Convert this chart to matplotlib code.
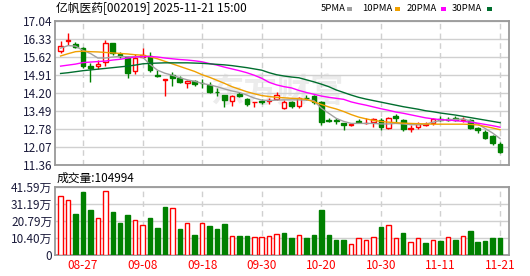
import matplotlib
matplotlib.use("Agg")
import matplotlib.pyplot as plt
from matplotlib.patches import Rectangle
import numpy as np

plt.rcParams['font.family'] = ['Noto Sans CJK SC', 'DejaVu Sans']

dates = ['08-22', '08-25', '08-26', '08-27', '08-28', '08-29', '09-01', '09-02', '09-03', '09-04',
         '09-05', '09-08', '09-09', '09-10', '09-11', '09-12', '09-15', '09-16', '09-17', '09-18',
         '09-19', '09-22', '09-23', '09-24', '09-25', '09-26', '09-29', '09-30', '10-09', '10-10',
         '10-13', '10-14', '10-15', '10-16', '10-17', '10-20', '10-21', '10-22', '10-23', '10-24',
         '10-27', '10-28', '10-29', '10-30', '10-31', '11-03', '11-04', '11-05', '11-06', '11-07',
         '11-10', '11-11', '11-12', '11-13', '11-14', '11-17', '11-18', '11-19', '11-20', '11-21']

opens = [15.86, 16.27, 16.13, 15.97, 15.28, 15.28, 15.41, 16.16, 15.73, 15.63,
         15.07, 15.63, 15.66, 14.91, 14.70, 14.91, 14.80, 14.61, 14.66, 14.60,
         14.52, 14.25, 14.13, 13.90, 14.15, 13.95, 13.83, 13.88, 13.88, 13.98,
         13.62, 13.86, 13.70, 14.02, 14.07, 13.83, 13.14, 13.12, 13.00, 12.95,
         13.10, 13.00, 13.04, 13.13, 12.81, 13.30, 13.13, 12.79, 12.85, 12.94,
         13.00, 13.18, 13.16, 13.20, 13.13, 13.13, 12.83, 12.67, 12.50, 12.18]
closes = [16.05, 16.30, 16.00, 15.25, 15.17, 15.33, 16.16, 15.77, 15.66, 15.00,
          15.57, 15.70, 15.11, 14.89, 14.74, 14.78, 14.63, 14.67, 14.54, 14.58,
          14.23, 14.22, 13.92, 14.09, 14.08, 13.77, 13.85, 13.86, 13.92, 14.12,
          13.83, 13.70, 14.01, 13.99, 13.86, 13.07, 13.11, 13.09, 12.94, 12.97,
          13.07, 13.01, 13.16, 12.87, 13.20, 13.20, 12.77, 12.81, 12.98, 12.97,
          13.16, 13.15, 13.14, 13.13, 13.16, 12.81, 12.73, 12.44, 12.22, 11.86]
highs = [16.25, 16.58, 16.22, 16.00, 15.38, 15.49, 16.29, 16.16, 15.80, 15.67,
         15.74, 15.96, 15.83, 15.11, 14.74, 15.04, 14.87, 14.71, 14.71, 14.74,
         14.65, 14.39, 14.13, 14.13, 14.24, 13.99, 13.85, 13.95, 14.00, 14.25,
         13.92, 13.88, 14.04, 14.12, 14.12, 13.88, 13.20, 13.23, 13.00, 12.97,
         13.16, 13.20, 13.20, 13.20, 13.27, 13.36, 13.16, 12.94, 13.07, 13.07,
         13.20, 13.30, 13.26, 13.28, 13.26, 13.17, 12.87, 12.74, 12.54, 12.28]
lows = [15.78, 16.09, 15.98, 15.20, 14.65, 15.13, 15.28, 15.70, 15.57, 14.80,
        14.94, 15.60, 15.04, 14.82, 14.08, 14.48, 14.58, 14.41, 14.49, 14.39,
        14.19, 14.08, 13.66, 13.70, 14.03, 13.70, 13.66, 13.77, 13.75, 13.92,
        13.56, 13.60, 13.62, 13.94, 13.75, 12.94, 13.04, 12.99, 12.74, 12.90,
        13.00, 12.98, 12.87, 12.74, 12.77, 13.07, 12.71, 12.67, 12.77, 12.91,
        12.95, 13.10, 13.10, 13.10, 13.06, 12.77, 12.61, 12.39, 12.15, 11.82]

# moving averages
ma5 = [15.97, 16.07, 16.05, 15.88, 15.76, 15.58, 15.58, 15.62, 15.64, 15.63,
       15.63, 15.62, 15.33, 15.10, 14.98, 14.90, 14.80, 14.72, 14.66, 14.58,
       14.52, 14.45, 14.36, 14.28, 14.22, 14.12, 14.00, 13.92, 13.90, 13.92,
       13.93, 13.93, 13.93, 13.92, 13.90, 13.60, 13.40, 13.20, 13.08, 13.00,
       13.00, 13.00, 13.00, 12.98, 12.98, 13.00, 12.98, 12.95, 12.95, 12.97,
       13.05, 13.12, 13.15, 13.16, 13.17, 13.10, 12.98, 12.80, 12.62, 12.40]
ma10 = [15.66, 15.75, 15.83, 15.85, 15.83, 15.82, 15.80, 15.78, 15.76, 15.74,
        15.71, 15.69, 15.63, 15.55, 15.45, 15.35, 15.25, 15.15, 15.05, 14.92,
        14.82, 14.70, 14.58, 14.45, 14.35, 14.25, 14.17, 14.10, 14.06, 14.03,
        14.01, 13.99, 13.98, 13.95, 13.85, 13.75, 13.65, 13.57, 13.47, 13.35,
        13.25, 13.18, 13.12, 13.08, 13.05, 13.03, 13.01, 13.00, 12.99, 12.98,
        12.97, 12.97, 12.97, 12.97, 12.97, 12.96, 12.94, 12.88, 12.82, 12.75]
ma20 = [15.26, 15.30, 15.34, 15.40, 15.42, 15.44, 15.46, 15.50, 15.53, 15.58,
        15.62, 15.64, 15.64, 15.62, 15.58, 15.55, 15.52, 15.50, 15.47, 15.43,
        15.36, 15.30, 15.22, 15.15, 15.08, 15.00, 14.90, 14.78, 14.62, 14.52,
        14.45, 14.40, 14.30, 14.22, 14.15, 14.08, 14.03, 13.99, 13.95, 13.85,
        13.78, 13.72, 13.65, 13.58, 13.52, 13.45, 13.40, 13.34, 13.28, 13.22,
        13.18, 13.15, 13.13, 13.11, 13.08, 13.05, 13.01, 12.96, 12.91, 12.85]
ma30 = [14.97, 15.00, 15.04, 15.08, 15.11, 15.14, 15.17, 15.20, 15.23, 15.26,
        15.30, 15.35, 15.37, 15.38, 15.39, 15.39, 15.39, 15.39, 15.38, 15.37,
        15.35, 15.33, 15.31, 15.28, 15.24, 15.20, 15.15, 15.10, 15.00, 14.92,
        14.87, 14.83, 14.80, 14.72, 14.64, 14.55, 14.45, 14.32, 14.22, 14.12,
        14.03, 13.96, 13.90, 13.84, 13.78, 13.72, 13.66, 13.61, 13.56, 13.50,
        13.46, 13.41, 13.37, 13.33, 13.28, 13.23, 13.18, 13.13, 13.08, 13.03]

# volume in 万 lots, and whether the bar is drawn as "up" (red)
volumes = [35.9, 33.5, 25.0, 38.4, 27.4, 22.9, 39.0, 26.2, 19.7, 24.4,
           21.1, 18.1, 22.5, 16.4, 29.2, 29.0, 15.8, 19.3, 12.2, 19.3,
           17.7, 15.8, 18.9, 11.4, 11.4, 11.4, 10.8, 10.8, 11.4, 12.8,
           13.6, 10.4, 12.0, 10.4, 12.2, 27.4, 12.2, 9.1, 9.1, 6.5,
           10.2, 9.1, 10.8, 17.0, 18.1, 10.2, 13.4, 7.7, 10.2, 7.3,
           8.9, 8.5, 10.8, 9.1, 11.4, 14.6, 7.9, 8.5, 10.4, 10.5]
vol_up = [1, 1, 0, 0, 0, 1, 1, 0, 0, 0, 1, 1, 0, 0, 0, 1, 0, 1, 0, 1,
          0, 0, 0, 1, 0, 0, 1, 1, 1, 1, 0, 0, 1, 0, 0, 0, 0, 0, 0, 1,
          1, 1, 1, 0, 1, 1, 0, 1, 1, 0, 1, 0, 1, 0, 1, 0, 0, 0, 0, 0]

price_ticks = [11.36, 12.07, 12.78, 13.49, 14.20, 14.91, 15.62, 16.33, 17.04]
vol_ticks = [0, 10.40, 20.79, 31.19, 41.59]
tick_dates = ['08-27', '09-08', '09-18', '09-30', '10-20', '10-30', '11-11', '11-21']

RED = '#ff0000'
GREEN = '#008000'
GRID = '#d0d0d0'
BORDER = '#999999'

x = np.arange(len(dates))
tick_pos = [dates.index(d) for d in tick_dates]

fig = plt.figure(figsize=(5.3, 2.76), dpi=100)
ax = fig.add_axes([0.1038, 0.4022, 0.8566, 0.5217])
axv = fig.add_axes([0.1038, 0.0761, 0.8566, 0.2464])

# watermark
ax.text(29, 14.2, '东方财富', fontsize=24, color='#ececec', ha='center', va='center',
        fontweight='bold', style='italic', zorder=0)

# candles
o = np.array(opens)
c = np.array(closes)
up = c >= o
cols = np.where(up, RED, GREEN)
ax.vlines(x, lows, highs, colors=cols, lw=1, zorder=2)
body_bot = np.minimum(o, c)
body_h = np.maximum(np.abs(c - o), 0.015)
ax.bar(x, body_h, bottom=body_bot, width=0.62,
       color=np.where(up, 'white', GREEN), edgecolor=cols, linewidth=1, zorder=3)

ax.plot(x, ma5, color='#a0a0a0', lw=1, zorder=4)
ax.plot(x, ma10, color='#f0a000', lw=1, zorder=4)
ax.plot(x, ma20, color='#ff00ff', lw=1, zorder=4)
ax.plot(x, ma30, color='#006e2e', lw=1, zorder=4)

# volume bars
vup = np.array(vol_up) == 1
vcols = np.where(vup, RED, GREEN)
axv.bar(x, volumes, width=0.6, color=np.where(vup, 'white', GREEN),
        edgecolor=vcols, linewidth=1, zorder=3)

for a in (ax, axv):
    a.set_xlim(-0.75, 60.2)
    a.set_xticks(tick_pos)
    a.grid(axis='x', color=GRID, ls=(0, (4, 3)), lw=1)
    a.grid(axis='y', color=GRID, ls='-', lw=1)
    a.set_axisbelow(True)
    for s in a.spines.values():
        s.set_color(BORDER)
        s.set_linewidth(1.3)
    a.tick_params(length=0, labelsize=8.5, labelcolor='#1c1c3c', pad=2)

ax.set_ylim(price_ticks[0], price_ticks[-1])
ax.set_yticks(price_ticks)
ax.set_yticklabels(['%.2f' % v for v in price_ticks])
ax.set_xticklabels([])

axv.set_ylim(0, vol_ticks[-1])
axv.set_yticks(vol_ticks)
axv.set_yticklabels(['0'] + ['%.2f万' % v for v in vol_ticks[1:]])
axv.set_xticklabels(tick_dates, color=RED, fontsize=8.5)
axv.tick_params(axis='x', pad=3)

# header texts
fig.text(0.106, 0.968, '亿帆医药[002019] 2025-11-21 15:00', fontsize=8.5, va='center', ha='left')
legend = [('5PMA', '#a0a0a0', 321, 347), ('10PMA', '#f0a000', 362, 395),
          ('20PMA', '#ff00ff', 407, 441), ('30PMA', '#006e2e', 452, 487)]
for name, col, tx, sx in legend:
    fig.text(tx / 530, 0.968, name, fontsize=6.8, va='center', ha='left')
    fig.add_artist(Rectangle((sx / 530, 0.960), 5 / 530, 4 / 276, transform=fig.transFigure,
                             facecolor=col, edgecolor='none'))
fig.text(0.106, 0.355, '成交量:104994', fontsize=8.5, va='center', ha='left')

fig.savefig('out.png', dpi=100)
